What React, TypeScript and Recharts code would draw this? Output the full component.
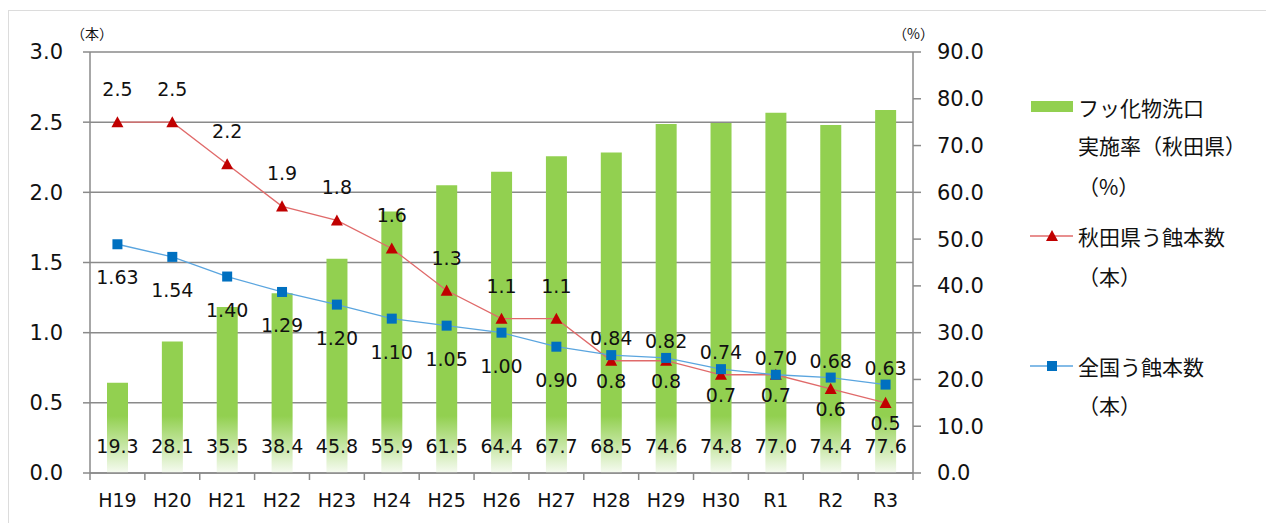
import React from 'react';
import {
  ComposedChart,
  Bar,
  Line,
  XAxis,
  YAxis,
  CartesianGrid,
  LabelList,
} from 'recharts';

// ---- data ----
const categories = ['H19', 'H20', 'H21', 'H22', 'H23', 'H24', 'H25', 'H26', 'H27', 'H28', 'H29', 'H30', 'R1', 'R2', 'R3'];
const fluorideRate = [19.3, 28.1, 35.5, 38.4, 45.8, 55.9, 61.5, 64.4, 67.7, 68.5, 74.6, 74.8, 77.0, 74.4, 77.6];
const akitaCaries = [2.5, 2.5, 2.2, 1.9, 1.8, 1.6, 1.3, 1.1, 1.1, 0.8, 0.8, 0.7, 0.7, 0.6, 0.5];
const nationalCaries = [1.63, 1.54, 1.4, 1.29, 1.2, 1.1, 1.05, 1.0, 0.9, 0.84, 0.82, 0.74, 0.7, 0.68, 0.63];
const leftTicks = [0, 0.5, 1.0, 1.5, 2.0, 2.5, 3.0];
const rightTicks = [0, 10, 20, 30, 40, 50, 60, 70, 80, 90];
const barLegendLines = ['フッ化物洗口', '実施率（秋田県）', '（%）'];
const akitaLegendLines = ['秋田県う蝕本数', '（本）'];
const nationalLegendLines = ['全国う蝕本数', '（本）'];
const leftUnit = '（本）';
const rightUnit = '（%）';

const data = categories.map((name, i) => ({
  name,
  rate: fluorideRate[i],
  akita: akitaCaries[i],
  national: nationalCaries[i],
}));

// ---- styles ----
const GRID = '#8a8a8a';
const GREEN = '#92D050';
const RED_LINE = '#E06A6A';
const RED_MARK = '#C00000';
const BLUE_LINE = '#5AA5DF';
const BLUE_MARK = '#0070C0';
const NUM_FONT = '"DejaVu Sans", Verdana, sans-serif';
const CJK_FONT = '"Noto Sans CJK JP", "Noto Sans", sans-serif';
const TEXT = '#111';

const W = 1264;
const H = 510;

const TriangleDot = (props: any) => {
  const { cx, cy } = props;
  if (cx == null || cy == null) return null;
  const s = 6;
  return (
    <path
      d={`M${cx},${cy - s} L${cx + s},${cy + s * 0.85} L${cx - s},${cy + s * 0.85} Z`}
      fill={RED_MARK}
    />
  );
};

const SquareDot = (props: any) => {
  const { cx, cy } = props;
  if (cx == null || cy == null) return null;
  const s = 5;
  return <rect x={cx - s} y={cy - s} width={s * 2} height={s * 2} fill={BLUE_MARK} />;
};

const makeLineLabel = (digits: number, flipAt: number, firstAbove: boolean, offFirst: number, offLate: number) =>
  (props: any) => {
    const { x, y, value, index } = props;
    if (x == null || y == null) return null;
    const early = index < flipAt;
    const above = early ? firstAbove : !firstAbove;
    const off = early ? offFirst : offLate;
    return (
      <text
        x={x}
        y={above ? y - off : y + off}
        textAnchor="middle"
        dominantBaseline="central"
        fontFamily={NUM_FONT}
        fontSize={19}
        fill={TEXT}
      >
        {Number(value).toFixed(digits)}
      </text>
    );
  };

const BarLabel = (props: any) => {
  const { x, y, width, height, value } = props;
  if (x == null) return null;
  return (
    <text
      x={x + width / 2}
      y={y + height - 27}
      textAnchor="middle"
      dominantBaseline="central"
      fontFamily={NUM_FONT}
      fontSize={19}
      fill={TEXT}
    >
      {Number(value).toFixed(1)}
    </text>
  );
};

const XTick = (props: any) => {
  const { x, y, payload, index, visibleTicksCount } = props;
  const half = payload && typeof payload.offset === 'number' && payload.offset > 0 ? payload.offset : 27.4;
  const isLast =
    (visibleTicksCount != null && index === visibleTicksCount - 1) ||
    (payload && payload.value === categories[categories.length - 1]);
  return (
    <g>
      <line x1={x - half} x2={x - half} y1={y} y2={y + 7} stroke={GRID} strokeWidth={1.5} />
      {isLast && <line x1={x + half} x2={x + half} y1={y} y2={y + 7} stroke={GRID} strokeWidth={1.5} />}
      <text
        x={x}
        y={y + 27}
        textAnchor="middle"
        dominantBaseline="central"
        fontFamily={NUM_FONT}
        fontSize={19}
        fill={TEXT}
      >
        {payload.value}
      </text>
    </g>
  );
};

const legendText: React.CSSProperties = {
  position: 'absolute',
  fontFamily: CJK_FONT,
  fontSize: 21,
  color: TEXT,
  lineHeight: '24px',
  whiteSpace: 'nowrap',
  transform: 'translateY(-50%)',
};

const LegendLines = ({ lines, x, ys }: { lines: string[]; x: number; ys: number[] }) => (
  <>
    {lines.map((t, i) => (
      <div key={i} style={{ ...legendText, left: x, top: ys[i] }}>
        {t}
      </div>
    ))}
  </>
);

export default function App() {
  return (
    <div
      style={{
        position: 'relative',
        width: W,
        height: H + 8,
        marginTop: 2,
        borderTop: '1px solid #dcdcdc',
        borderLeft: '1px solid #dcdcdc',
        background: '#fff',
      }}
    >
      <ComposedChart
        width={W}
        height={H}
        data={data}
        margin={{ top: 41, right: 280, left: 21, bottom: 8 }}
      >
        <defs>
          <linearGradient id="barFade" gradientUnits="userSpaceOnUse" x1="0" y1="405" x2="0" y2="462">
            <stop offset="0" stopColor={GREEN} />
            <stop offset="1" stopColor="#f6fbf1" />
          </linearGradient>
        </defs>
        <CartesianGrid yAxisId="left" vertical={false} stroke={GRID} strokeWidth={1.5} />
        <XAxis
          dataKey="name"
          type="category"
          height={40}
          tickSize={0}
          tickMargin={0}
          tickLine={false}
          axisLine={{ stroke: GRID, strokeWidth: 1.5 }}
          tick={<XTick />}
          interval={0}
        />
        <YAxis
          yAxisId="left"
          orientation="left"
          width={60}
          domain={[0, 3]}
          ticks={leftTicks}
          tickFormatter={(v: number) => v.toFixed(1)}
          tickSize={7}
          tickMargin={20}
          tickLine={{ stroke: GRID, strokeWidth: 1.5 }}
          axisLine={{ stroke: GRID, strokeWidth: 1.5 }}
          tick={{ fontFamily: NUM_FONT, fontSize: 21, fill: TEXT }}
          allowDecimals
        />
        <YAxis
          yAxisId="right"
          orientation="right"
          width={80}
          domain={[0, 90]}
          ticks={rightTicks}
          tickFormatter={(v: number) => v.toFixed(1)}
          tickSize={8}
          tickMargin={16}
          tickLine={{ stroke: GRID, strokeWidth: 1.5 }}
          axisLine={{ stroke: GRID, strokeWidth: 1.5 }}
          tick={{ fontFamily: NUM_FONT, fontSize: 21, fill: TEXT, textAnchor: 'start' }}
        />
        <Bar yAxisId="right" dataKey="rate" barSize={21} fill="url(#barFade)" isAnimationActive={false}>
          <LabelList dataKey="rate" content={<BarLabel />} />
        </Bar>
        <Line
          yAxisId="left"
          type="linear"
          dataKey="akita"
          stroke={RED_LINE}
          strokeWidth={1.3}
          dot={<TriangleDot />}
          activeDot={false}
          isAnimationActive={false}
        >
          <LabelList dataKey="akita" content={makeLineLabel(1, 9, true, 33, 20)} />
        </Line>
        <Line
          yAxisId="left"
          type="linear"
          dataKey="national"
          stroke={BLUE_LINE}
          strokeWidth={1.3}
          dot={<SquareDot />}
          activeDot={false}
          isAnimationActive={false}
        >
          <LabelList dataKey="national" content={makeLineLabel(2, 9, false, 33, 17)} />
        </Line>
      </ComposedChart>

      {/* axis unit labels */}
      <div style={{ position: 'absolute', left: 62, top: 22, transform: 'translateY(-50%)', fontFamily: CJK_FONT, fontSize: 14, color: TEXT }}>
        {leftUnit}
      </div>
      <div style={{ position: 'absolute', left: 884, top: 22, transform: 'translateY(-50%)', fontFamily: CJK_FONT, fontSize: 14, color: TEXT }}>
        {rightUnit}
      </div>

      {/* legend */}
      <div style={{ position: 'absolute', left: 1022, top: 90, width: 42, height: 11, background: GREEN }} />
      <LegendLines lines={barLegendLines} x={1069} ys={[96, 134, 175]} />

      <svg style={{ position: 'absolute', left: 1021, top: 215 }} width={44} height={20}>
        <line x1={0} x2={43} y1={10} y2={10} stroke={RED_LINE} strokeWidth={1.5} />
        <TriangleDot cx={22} cy={10} />
      </svg>
      <LegendLines lines={akitaLegendLines} x={1069} ys={[225, 265]} />

      <svg style={{ position: 'absolute', left: 1021, top: 345 }} width={44} height={20}>
        <line x1={0} x2={43} y1={10} y2={10} stroke={BLUE_LINE} strokeWidth={1.5} />
        <SquareDot cx={22} cy={10} />
      </svg>
      <LegendLines lines={nationalLegendLines} x={1069} ys={[355, 394]} />
    </div>
  );
}
